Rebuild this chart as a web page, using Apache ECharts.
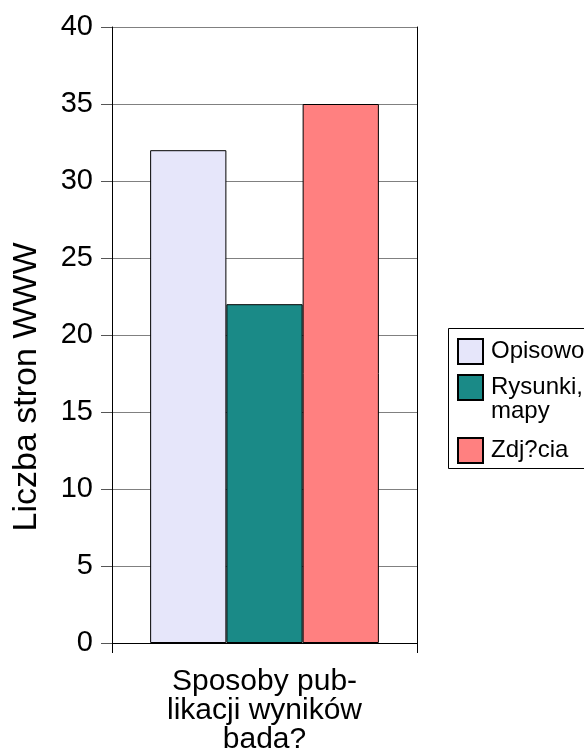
<!DOCTYPE html>
<html>
<head>
<meta charset="utf-8">
<script src="https://cdn.jsdelivr.net/npm/echarts@6/dist/echarts.min.js"></script>
<style>
html,body{margin:0;padding:0;background:#fff;}
#chart{width:584px;height:756px;}
</style>
</head>
<body>
<div id="chart"></div>
<script>
const categories = ['Sposoby pub-\nlikacji wyników\nbada?'];
const seriesNames = ['Opisowo', 'Rysunki, mapy', 'Zdj?cia'];
const opisowo = [32];
const rysunki = [22];
const zdjecia = [35];
const yTicks = { min: 0, max: 40, interval: 5 };

const FONT = "'Liberation Sans', Arial, sans-serif";
const colors = ['#E6E6FA', '#1A8A87', '#FF8080'];
const values = [opisowo, rysunki, zdjecia];

const chart = echarts.init(document.getElementById('chart'), null, { renderer: 'canvas' });

const legendBase = {
  orient: 'vertical',
  left: 457,
  padding: 0,
  itemWidth: 25,
  itemHeight: 25,
  icon: 'rect',
  selectedMode: false,
  textStyle: { fontFamily: FONT, fontSize: 24, color: '#000', lineHeight: 24, padding: [0, 0, 0, 3] }
};

const option = {
  backgroundColor: '#fff',
  animation: false,
  grid: { left: 112, right: 167, top: 27, bottom: 113, containLabel: false, outerBoundsMode: 'none' },
  xAxis: {
    type: 'category',
    data: categories,
    axisLine: { lineStyle: { color: '#000', width: 1 } },
    axisTick: { show: true, length: 10, lineStyle: { color: '#000' } },
    axisLabel: { fontFamily: FONT, fontSize: 30, color: '#000', lineHeight: 29, margin: 24 }
  },
  yAxis: [{
    type: 'value',
    min: yTicks.min, max: yTicks.max, interval: yTicks.interval,
    name: 'Liczba stron WWW',
    nameLocation: 'middle',
    nameGap: 68,
    nameRotate: 90,
    nameTextStyle: { fontFamily: FONT, fontSize: 34, color: '#000', padding: [0, 104, 0, 0] },
    axisLine: { show: true, lineStyle: { color: '#000', width: 1 } },
    axisTick: { show: true, length: 11, lineStyle: { color: '#555' } },
    axisLabel: { fontFamily: FONT, fontSize: 29, color: '#000', margin: 19 },
    splitLine: { show: true, lineStyle: { color: '#808080', width: 1 } }
  }, {
    type: 'value',
    position: 'right',
    min: yTicks.min, max: yTicks.max, interval: yTicks.interval,
    axisLine: { show: true, lineStyle: { color: '#000', width: 1 } },
    axisTick: { show: false },
    axisLabel: { show: false },
    splitLine: { show: false }
  }],
  legend: [
    Object.assign({}, legendBase, { top: 338, data: [seriesNames[0]] }),
    Object.assign({}, legendBase, { top: 351.5, data: [seriesNames[1]],
      formatter: n => '\n' + n.replace(', ', ',\n') }),
    Object.assign({}, legendBase, { top: 437, data: [seriesNames[2]] })
  ],
  graphic: [{
    type: 'rect',
    shape: { x: 448.5, y: 328.5, width: 200, height: 140 },
    style: { fill: 'none', stroke: '#000', lineWidth: 1 },
    z: -1
  }],
  series: seriesNames.map((name, i) => ({
    type: 'bar',
    name: name,
    data: values[i],
    barGap: '0%',
    barCategoryGap: '25%',
    itemStyle: { color: colors[i], borderColor: '#000', borderWidth: 1 }
  }))
};

chart.setOption(option);
</script>
</body>
</html>
